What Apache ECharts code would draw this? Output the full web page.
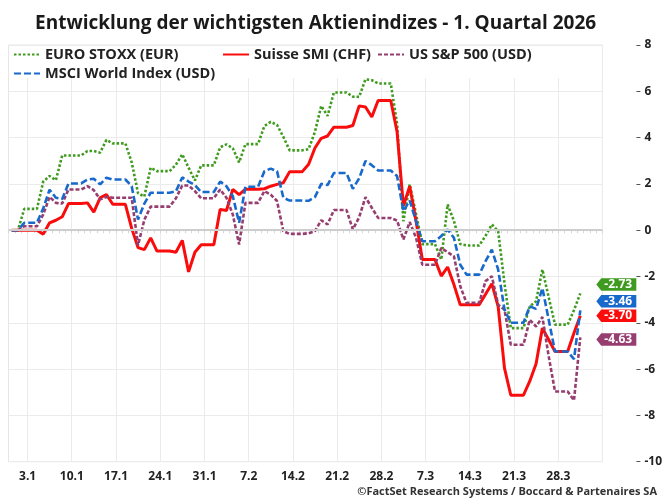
<!DOCTYPE html>
<html>
<head>
<meta charset="utf-8">
<title>Aktienindizes Q1 2026</title>
<script src="https://cdn.jsdelivr.net/npm/echarts@6/dist/echarts.min.js"></script>
<style>
html, body { margin: 0; padding: 0; background: #fff; }
#chart { width: 665px; height: 502px; }
</style>
</head>
<body>
<div id="chart"></div>
<script>
// Kalendertage 31.12.2025 - 3.4.2026 (Wochenenden = Wert vom Freitag)
var firstDay = '2025-12-31'
var dayCount = 94
var days = []
for(var i = 0; i < dayCount; i ++) {
	var d = new Date(firstDay + 'T00:00:00Z')
	d.setUTCDate(d.getUTCDate() + i)
	days.push(d.toISOString().slice(0, 10))
}

var seriesNames = ['EURO STOXX (EUR)', 'Suisse SMI (CHF)', 'US S&P 500 (USD)', 'MSCI World Index (USD)']

// Performance in % seit Jahresbeginn
var euroStoxx = [0, 0, 0.92, 0.92, 0.92, 2.1, 2.34, 2.16, 3.23, 3.23, 3.23, 3.23, 3.42, 3.42, 3.35, 3.9, 3.75, 3.75, 3.75,
	2.93, 1.6, 1.45, 2.7, 2.55, 2.55, 2.55, 2.83, 3.28, 2.7, 2.15, 2.8, 2.8, 2.8, 3.58, 3.71, 3.54, 2.93, 3.72, 3.72, 3.72,
	4.5, 4.68, 4.55, 4.03, 3.45, 3.45, 3.45, 3.5, 4.25, 5.37, 4.94, 5.95, 5.95, 5.95, 5.77, 5.76, 6.52, 6.48, 6.34, 6.34, 6.34,
	4.6, 0.39, 1.98, 0.7, -0.6, -0.6, -0.6, -1.27, 1.11, 0.4, -0.6, -0.66, -0.66, -0.66, -0.25, 0.25, -0.04, -2.3, -4.23, -4.23, -4.23,
	-3.29, -3.07, -1.7, -2.9, -4.08, -4.08, -4.08, -3.45, -2.73]
var smi = [0, 0, 0, 0, 0, -0.17, 0.32, 0.43, 0.58, 1.15, 1.15, 1.15, 1.18, 0.78, 1.4, 1.54, 1.12, 1.12, 1.12,
	0.08, -0.75, -0.84, -0.33, -0.9, -0.9, -0.9, -0.95, -0.44, -1.8, -0.95, -0.63, -0.63, -0.63, 0.9, 0.85, 1.76, 1.54, 1.77, 1.77, 1.77,
	1.79, 1.9, 1.98, 2.05, 2.53, 2.53, 2.53, 2.85, 3.55, 3.97, 4.07, 4.45, 4.45, 4.45, 4.52, 5.37, 5.32, 4.89, 5.6, 5.6, 5.6,
	4.25, 1.05, 1.9, 0.4, -1.27, -1.27, -1.27, -1.98, -1.59, -2.35, -3.22, -3.22, -3.22, -3.22, -2.77, -2.31, -3.3, -5.96, -7.13, -7.13, -7.13,
	-6.52, -5.77, -4.23, -4.73, -5.24, -5.24, -5.24, -4.44, -3.70]
var sp500 = [0, 0, 0.17, 0.17, 0.17, 0.68, 1.44, 1.18, 1.15, 1.76, 1.76, 1.76, 1.9, 1.73, 1.33, 1.44, 1.4, 1.4, 1.4,
	1.4, -0.65, 0.45, 1.02, 1.02, 1.02, 1.02, 1.38, 1.93, 1.93, 1.69, 1.38, 1.38, 1.38, 1.76, 1.4, 0.68, -0.62, 1.18, 1.18, 1.18,
	1.69, 1.54, 1.26, -0.04, -0.16, -0.16, -0.16, -0.13, -0.04, 0.43, 0.25, 0.87, 0.87, 0.87, 0.03, 0.56, 1.43, 0.97, 0.53, 0.53, 0.53,
	0.42, -0.4, 0.35, -0.33, -1.49, -1.49, -1.49, -0.77, -0.95, -1.13, -2.42, -3.14, -3.14, -3.14, -2.2, -1.99, -3.22, -3.43, -4.95, -4.95, -4.95,
	-3.87, -4.16, -3.75, -5.45, -6.97, -6.97, -6.97, -7.35, -4.63]
var msci = [0, 0, 0.32, 0.32, 0.32, 0.95, 1.75, 1.4, 1.35, 2.02, 2.02, 2.02, 2.19, 2.22, 1.98, 2.27, 2.19, 2.19, 2.19,
	1.9, 0.46, 1.15, 1.62, 1.62, 1.62, 1.62, 1.68, 2.28, 2.1, 1.95, 1.65, 1.65, 1.65, 2.1, 1.9, 1.47, 0.32, 1.88, 1.88, 1.88,
	2.55, 2.66, 2.55, 1.4, 1.28, 1.28, 1.28, 1.27, 1.43, 2.0, 1.95, 2.47, 2.47, 2.47, 1.79, 2.24, 2.99, 2.81, 2.58, 2.58, 2.58,
	2.34, 0.82, 1.28, 0.39, -0.48, -0.48, -0.48, -0.25, 0.03, -0.33, -1.49, -1.92, -1.92, -1.92, -1.34, -0.84, -1.7, -3.43, -4.0, -4.0, -4.0,
	-3.29, -3.4, -2.5, -3.87, -5.24, -5.24, -5.24, -5.57, -3.46]

var yMin = -10
var yMax = 8
var yStep = 2

var colors = ['#3f9b1f', '#fa0c0c', '#973e70', '#1869cc']
var dashes = [[2.5, 2], 'solid', [4, 2], [7, 3]]
var widths = [2.6, 3, 2.6, 2.6]
var tagShift = [-9, 0, 2, -9]

function isSaturday(value) {
	return new Date(value + 'T00:00:00Z').getUTCDay() === 6
}

function makeSeries(idx, data) {
	var last = data.length - 1
	return {
		name: seriesNames[idx],
		type: 'line',
		data: data,
		symbol: 'none',
		z: 3,
		lineStyle: { color: colors[idx], width: widths[idx], type: dashes[idx] },
		itemStyle: { color: colors[idx] },
		markPoint: {
			symbol: 'path://M0,6L5,0L40,0L40,12L5,12Z',
			symbolSize: [40, 12.5],
			symbolKeepAspect: false,
			symbolOffset: [36, tagShift[idx]],
			itemStyle: { color: colors[idx] },
			label: {
				show: true, color: '#fff', fontSize: 12, fontWeight: 'bold', offset: [2, 0],
				fontFamily: 'Open Sans',
				formatter: function(p) { return p.value.toFixed(2) }
			},
			data: [{ coord: [days[last], data[last]], value: data[last] }]
		}
	}
}

var chart = echarts.init(document.getElementById('chart'))

var legendText = { fontSize: 14.5, fontWeight: 'bold', color: '#222', fontFamily: 'Open Sans' }

var option = {
	animation: false,
	textStyle: { fontFamily: 'Open Sans' },
	title: [{
		text: 'Entwicklung der wichtigsten Aktienindizes - 1. Quartal 2026',
		left: 30, top: 9,
		textStyle: { fontSize: 19, fontWeight: 'bold', color: '#1a1a1a', fontFamily: 'Open Sans' }
	}, {
		text: '©FactSet Research Systems / Boccard & Partenaires SA',
		right: 3, bottom: 0,
		textStyle: { fontSize: 11, fontWeight: 'bold', color: '#333', fontFamily: 'Open Sans' }
	}],
	legend: [{
		data: [seriesNames[0], seriesNames[3]], orient: 'vertical', left: 13, top: 47,
		itemWidth: 26, itemHeight: 12, itemGap: 4, padding: 0, textStyle: legendText,
		itemStyle: { opacity: 0 }
	}, {
		data: [seriesNames[1]], left: 222, top: 47,
		itemWidth: 26, itemHeight: 12, padding: 0, textStyle: legendText,
		itemStyle: { opacity: 0 }
	}, {
		data: [seriesNames[2]], left: 377, top: 47,
		itemWidth: 26, itemHeight: 12, padding: 0, textStyle: legendText,
		itemStyle: { opacity: 0 }
	}],
	graphic: [{
		type: 'rect', left: 9, top: 46, z: 1,
		shape: { width: 593, height: 32 },
		style: { fill: '#fff' }
	}],
	grid: {
		left: 8.5, right: 62.5, top: 45, bottom: 40.3,
		show: true, borderColor: '#e6e6e6', borderWidth: 1
	},
	xAxis: {
		type: 'category',
		data: days,
		boundaryGap: true,
		axisLine: { show: false },
		axisTick: { show: true, interval: 0, length: 3, lineStyle: { color: '#d6d6d6' } },
		splitLine: { show: true, interval: function(i, v) { return isSaturday(v) }, lineStyle: { color: '#ebebeb' } },
		axisLabel: {
			interval: function(i, v) { return isSaturday(v) },
			formatter: function(v) {
				var d = new Date(v + 'T00:00:00Z')
				return d.getUTCDate() + '.' + (d.getUTCMonth() + 1)
			},
			margin: 9, padding: [0, 6, 0, 0],
			fontSize: 12, fontWeight: 'bold', color: '#222'
		}
	},
	yAxis: {
		type: 'value',
		position: 'right',
		offset: 34,
		min: yMin, max: yMax, interval: yStep,
		axisLine: { show: false },
		axisTick: { show: true, length: 4, lineStyle: { color: '#555' } },
		splitLine: { lineStyle: { color: '#ebebeb' } },
		axisLabel: { margin: 8, fontSize: 12, fontWeight: 'bold', color: '#222' }
	},
	series: [
		{
			type: 'line', data: [], z: 1, silent: true,
			markLine: {
				silent: true, symbol: 'none', label: { show: false },
				lineStyle: { color: '#cdcdcd', width: 2, type: 'solid' },
				data: [{ yAxis: 0 }]
			}
		},
		makeSeries(0, euroStoxx),
		makeSeries(1, smi),
		makeSeries(2, sp500),
		makeSeries(3, msci)
	]
}

chart.setOption(option)
</script>
</body>
</html>
